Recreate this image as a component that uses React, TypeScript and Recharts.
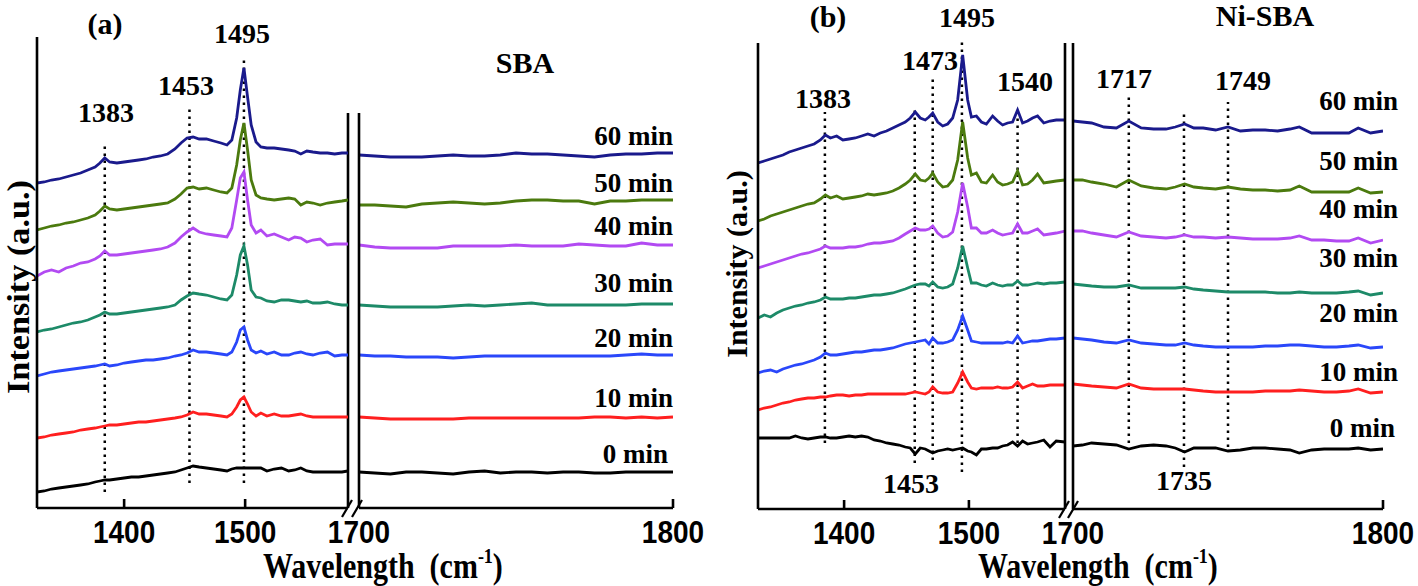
import React from 'react';
import { LineChart, Line, XAxis, YAxis, ReferenceLine } from 'recharts';

const SERIF = '"Liberation Serif", "Times New Roman", Times, serif';
const SANS = '"Liberation Sans", Arial, Helvetica, sans-serif';

const timeLabels = ['60 min', '50 min', '40 min', '30 min', '20 min', '10 min', '0 min'];
const seriesColors = ['#1a1a8c', '#4b7a0e', '#b24af2', '#1d8a68', '#2a47fa', '#ff1f1f', '#000000'];

// ---------- Panel (a) SBA ----------
const gridA1 = [1328, 1334, 1340, 1346, 1352, 1358, 1364, 1370, 1376, 1380, 1384, 1388, 1394, 1400, 1406, 1412, 1418, 1424, 1430, 1436, 1442, 1447, 1452, 1457, 1462, 1468, 1474, 1480, 1485, 1489, 1493, 1496, 1499, 1502, 1505, 1509, 1513, 1518, 1524, 1530, 1536, 1541, 1546, 1551, 1556, 1562, 1568, 1574, 1580, 1585];
const a1_60 = [325, 326, 328, 329, 331, 333, 335, 338, 341, 345, 350, 346, 345, 346, 347, 348, 349, 351, 352, 354, 359, 365, 370, 371, 369, 369, 367, 365, 363, 368, 390, 418, 440, 411, 383, 366, 361, 360, 360, 359, 358, 357, 354, 357, 356, 355, 355, 354, 355, 355];
const a1_50 = [278, 280, 282, 283, 285, 286, 288, 290, 293, 297, 302, 299, 298, 299, 300, 301, 302, 303, 304, 305, 309, 314, 320, 321, 319, 320, 318, 316, 315, 320, 343, 368, 385, 358, 328, 313, 310, 309, 308, 309, 310, 309, 303, 306, 305, 303, 305, 306, 307, 308];
const a1_40 = [232, 236, 238, 236, 240, 242, 245, 246, 249, 252, 257, 253, 253, 254, 255, 256, 257, 258, 259, 261, 265, 271, 276, 280, 276, 274, 273, 272, 271, 280, 308, 330, 336, 308, 283, 275, 278, 272, 274, 271, 268, 271, 270, 266, 268, 269, 263, 264, 264, 264];
const a1_30 = [176, 178, 179, 181, 183, 185, 186, 188, 191, 193, 196, 194, 194, 195, 196, 197, 198, 199, 200, 201, 203, 208, 212, 215, 214, 213, 211, 209, 208, 213, 233, 253, 262, 243, 218, 211, 210, 207, 206, 208, 208, 207, 206, 207, 205, 205, 206, 204, 203, 203];
const a1_20 = [132, 134, 136, 137, 138, 139, 140, 141, 142, 143, 144, 142, 143, 145, 146, 147, 148, 148, 149, 150, 152, 153, 155, 158, 156, 156, 155, 154, 153, 156, 166, 178, 181, 168, 158, 155, 157, 154, 156, 153, 153, 155, 156, 154, 153, 155, 156, 152, 153, 153];
const a1_10 = [70, 71, 73, 74, 75, 76, 78, 79, 80, 81, 82, 83, 83, 84, 85, 86, 86, 87, 88, 89, 90, 91, 93, 96, 94, 94, 93, 92, 91, 94, 101, 108, 111, 104, 96, 92, 95, 92, 94, 92, 92, 93, 94, 92, 91, 91, 91, 91, 91, 91];
const a1_0 = [16, 17, 19, 20, 21, 22, 23, 24, 26, 27, 28, 28, 29, 30, 31, 31, 32, 33, 34, 35, 36, 38, 40, 42, 41, 40, 39, 38, 37, 39, 40, 40, 40, 40, 40, 40, 40, 37, 39, 40, 37, 38, 40, 37, 36, 36, 36, 36, 36, 37];

const gridA2 = [1700, 1705, 1710, 1715, 1720, 1725, 1730, 1735, 1740, 1745, 1750, 1755, 1760, 1765, 1770, 1775, 1780, 1785, 1790, 1795, 1800];
const a2_60 = [353, 352, 351, 351, 351, 352, 353, 352, 352, 353, 355, 354, 354, 353, 352, 351, 353, 354, 354, 355, 355];
const a2_50 = [303, 303, 302, 301, 304, 305, 306, 305, 304, 305, 307, 308, 308, 307, 307, 304, 307, 307, 308, 308, 308];
const a2_40 = [263, 261, 260, 260, 260, 260, 262, 262, 262, 262, 263, 262, 262, 262, 264, 263, 262, 262, 265, 263, 263];
const a2_30 = [203, 202, 201, 201, 201, 201, 202, 203, 202, 203, 204, 205, 203, 203, 203, 203, 203, 203, 204, 204, 204];
const a2_20 = [153, 152, 152, 151, 151, 151, 150, 151, 152, 152, 152, 152, 152, 152, 152, 152, 152, 153, 154, 153, 153];
const a2_10 = [91, 90, 89, 89, 89, 89, 89, 90, 90, 90, 90, 90, 90, 90, 90, 91, 91, 90, 91, 90, 91];
const a2_0 = [36, 35, 34, 36, 36, 35, 34, 36, 37, 35, 36, 36, 35, 36, 36, 35, 35, 36, 36, 36, 36];

const peakPosA1 = [1384, 1454, 1499];
const peakLowA1 = [16, 25, 25];
const peakHighA1 = [365, 401, 451];
const peakLabelsA = ['1383', '1453', '1495'];

// ---------- Panel (b) Ni-SBA ----------
const gridB1 = [1331, 1336, 1341, 1346, 1351, 1356, 1361, 1366, 1371, 1376, 1381, 1385, 1389, 1394, 1399, 1404, 1409, 1414, 1419, 1424, 1429, 1434, 1439, 1444, 1449, 1453, 1457, 1461, 1465, 1468, 1471, 1475, 1479, 1483, 1487, 1491, 1495, 1499, 1502, 1506, 1510, 1514, 1519, 1523, 1527, 1531, 1535, 1539, 1543, 1547, 1551, 1555, 1560, 1565, 1570, 1577];
const b1_60 = [346, 348, 350, 352, 354, 357, 359, 361, 363, 365, 369, 374, 371, 373, 369, 370, 371, 373, 375, 373, 376, 378, 381, 384, 387, 391, 397, 391, 389, 392, 396, 387, 383, 385, 391, 409, 454, 409, 392, 393, 387, 385, 393, 388, 384, 386, 387, 399, 386, 388, 391, 393, 386, 388, 389, 389];
const b1_50 = [288, 290, 293, 295, 297, 299, 301, 303, 305, 306, 310, 314, 311, 313, 310, 311, 312, 313, 315, 314, 315, 316, 318, 321, 325, 329, 335, 329, 328, 331, 336, 327, 322, 323, 329, 349, 387, 351, 334, 336, 327, 326, 334, 327, 324, 325, 327, 338, 324, 325, 329, 335, 326, 327, 328, 329];
const b1_40 = [241, 243, 245, 247, 249, 251, 253, 255, 256, 258, 260, 263, 261, 261, 261, 262, 262, 263, 265, 266, 266, 267, 268, 271, 275, 278, 281, 279, 279, 280, 283, 276, 272, 273, 277, 297, 326, 302, 281, 281, 276, 276, 279, 276, 274, 275, 276, 285, 276, 276, 278, 280, 274, 275, 276, 278];
const b1_30 = [191, 194, 192, 196, 199, 201, 203, 204, 206, 207, 209, 212, 210, 210, 210, 211, 211, 212, 213, 214, 214, 215, 216, 218, 220, 222, 224, 225, 225, 223, 227, 222, 221, 222, 225, 241, 263, 241, 226, 226, 224, 223, 226, 224, 223, 224, 224, 228, 224, 224, 225, 226, 225, 226, 226, 227];
const b1_20 = [136, 138, 139, 137, 140, 142, 144, 145, 147, 149, 152, 156, 154, 154, 155, 156, 157, 157, 158, 159, 159, 160, 161, 163, 165, 166, 167, 168, 169, 165, 171, 166, 166, 167, 169, 179, 193, 179, 168, 167, 166, 166, 166, 166, 166, 167, 166, 173, 166, 167, 168, 168, 169, 170, 170, 171];
const b1_10 = [99, 101, 102, 104, 106, 107, 109, 110, 111, 111, 112, 112, 113, 114, 114, 113, 114, 114, 115, 115, 115, 115, 115, 115, 115, 116, 117, 116, 115, 117, 122, 117, 116, 116, 117, 126, 137, 127, 121, 120, 121, 121, 121, 122, 121, 121, 122, 127, 121, 123, 125, 123, 123, 124, 124, 124];
const b1_0 = [71, 71, 71, 71, 71, 71, 73, 71, 70, 71, 72, 72, 71, 71, 72, 73, 72, 73, 72, 69, 68, 66, 65, 64, 62, 61, 55, 61, 60, 58, 56, 58, 59, 60, 59, 60, 61, 58, 57, 54, 60, 60, 61, 61, 63, 64, 67, 63, 68, 65, 66, 67, 69, 62, 68, 67];

const gridB2 = [1700, 1703, 1706, 1710, 1714, 1718, 1722, 1726, 1730, 1733, 1736, 1739, 1742, 1746, 1750, 1754, 1758, 1762, 1766, 1770, 1773, 1777, 1781, 1785, 1789, 1792, 1796, 1800];
const b2_60 = [388, 387, 386, 382, 381, 388, 381, 380, 380, 382, 385, 381, 381, 379, 382, 378, 379, 379, 378, 380, 382, 376, 376, 376, 376, 381, 376, 378];
const b2_50 = [329, 329, 327, 325, 322, 329, 323, 321, 320, 322, 325, 322, 321, 320, 322, 320, 319, 319, 318, 319, 323, 317, 317, 317, 317, 321, 316, 317];
const b2_40 = [278, 278, 276, 274, 272, 277, 273, 272, 271, 272, 274, 272, 272, 271, 272, 271, 270, 270, 270, 271, 273, 269, 269, 268, 268, 271, 266, 269];
const b2_30 = [225, 224, 223, 222, 222, 224, 221, 221, 221, 221, 222, 220, 219, 218, 217, 217, 217, 217, 216, 216, 217, 216, 216, 216, 217, 218, 214, 216];
const b2_20 = [171, 170, 169, 167, 166, 169, 166, 165, 164, 164, 166, 164, 163, 162, 162, 162, 162, 163, 163, 164, 164, 163, 162, 162, 163, 164, 161, 162];
const b2_10 = [125, 124, 123, 122, 121, 125, 121, 120, 120, 120, 120, 119, 118, 117, 117, 117, 117, 118, 118, 118, 119, 118, 117, 117, 118, 120, 116, 117];
const b2_0 = [63, 64, 66, 65, 64, 60, 63, 64, 63, 61, 57, 61, 61, 61, 58, 59, 61, 61, 60, 59, 56, 59, 60, 60, 60, 61, 59, 60];

const peakPosB1 = [1384.6, 1456.6, 1471, 1494.4, 1539];
const peakLowB1 = [66, 46, 49, 37, 66];
const peakHighB1 = [397, 399, 431, 471, 401];
const peakPosB2 = [1718, 1735.8, 1750];
const peakLowB2 = [66, 42, 62];
const peakHighB2 = [412, 397, 407];

const ticksLeft = [1400, 1500];
const ticksRight = [1700, 1800];

const AXIS = { stroke: '#000', strokeWidth: 2.6 };
const H = 586;

function buildRows(grid: number[], series: number[][]) {
  return grid.map((x, i) => {
    const row: any = { x };
    series.forEach((s, k) => {
      row['s' + k] = s[i];
    });
    return row;
  });
}

function makeTick(withLine: number[]) {
  return (p: any) => {
    const { x, y, payload } = p;
    return (
      <g>
        {withLine.includes(payload.value) && (
          <line x1={x} y1={y} x2={x} y2={y - 9} stroke="#000" strokeWidth={2.6} />
        )}
        <text
          transform={`translate(${x},${y + 35}) scale(1,1.15)`}
          textAnchor="middle"
          fontFamily={SANS}
          fontWeight="bold"
          fontSize={28}
          fill="#000"
        >
          {payload.value}
        </text>
      </g>
    );
  };
}

type SegProps = {
  boxLeft: number;
  boxWidth: number;
  plotLeft: number;
  plotRight: number;
  plotTop: number;
  plotBottom: number;
  grid: number[];
  series: number[][];
  xDomain: [number, number];
  yMax: number;
  ticks: number[];
  tickLineAt: number[];
  rightAxis?: boolean;
  breakTop?: number;
  peakPos: number[];
  peakLow: number[];
  peakHigh: number[];
};

function Segment(p: SegProps) {
  const rows = buildRows(p.grid, p.series);
  const mLeft = p.plotLeft - p.boxLeft - 1;
  const mRight = p.boxLeft + p.boxWidth - p.plotRight - (p.rightAxis ? 1 : 0);
  return (
    <div style={{ position: 'absolute', left: p.boxLeft, top: 0, width: p.boxWidth, height: H }}>
      <LineChart
        width={p.boxWidth}
        height={H}
        data={rows}
        margin={{ top: p.plotTop, left: mLeft, right: mRight, bottom: 0 }}
      >
        <XAxis
          dataKey="x"
          type="number"
          domain={p.xDomain}
          ticks={p.ticks}
          interval={0}
          height={H - p.plotBottom}
          axisLine={AXIS}
          tickLine={false}
          tickSize={0}
          tickMargin={0}
          tick={makeTick(p.tickLineAt)}
          allowDataOverflow
        />
        <YAxis yAxisId="l" type="number" domain={[0, p.yMax]} width={1} tick={false} tickLine={false} axisLine={AXIS} allowDataOverflow />
        {p.rightAxis && (
          <YAxis yAxisId="r" orientation="right" type="number" domain={[0, p.yMax]} width={1} tick={false} tickLine={false} axisLine={AXIS} />
        )}
        {p.breakTop != null && (
          <ReferenceLine
            yAxisId="l"
            segment={[{ x: p.xDomain[1], y: 0 }, { x: p.xDomain[1], y: p.breakTop }]}
            stroke="#000"
            strokeWidth={2.6}
            ifOverflow="visible"
          />
        )}
        {p.peakPos.map((x, i) => (
          <ReferenceLine
            key={'pk' + i}
            yAxisId="l"
            segment={[{ x, y: p.peakLow[i] }, { x, y: p.peakHigh[i] }]}
            stroke="#000"
            strokeWidth={2.5}
            strokeDasharray="2.5 4.5"
            ifOverflow="visible"
          />
        ))}
        {p.series.map((_, k) => (
          <Line
            key={'s' + k}
            yAxisId="l"
            dataKey={'s' + k}
            type="linear"
            stroke={seriesColors[k]}
            strokeWidth={2.8}
            dot={false}
            isAnimationActive={false}
          />
        ))}
      </LineChart>
    </div>
  );
}

function Txt(props: { x: number; y: number; size: number; anchor?: string; sy?: number; family?: string; children: any }) {
  const { x, y, size, anchor = 'middle', sy = 1, family = SERIF } = props;
  return (
    <text
      transform={`translate(${x},${y}) scale(1,${sy})`}
      fontSize={size}
      fontFamily={family}
      fontWeight="bold"
      textAnchor={anchor as any}
      fill="#000"
    >
      {props.children}
    </text>
  );
}

function AxisTitle({ x, y }: { x: number; y: number }) {
  return (
    <text transform={`translate(${x},${y}) scale(1,1.18)`} fontSize={30} fontFamily={SERIF} fontWeight="bold" fill="#000">
      <tspan>{'Wavelength\u00A0\u00A0(cm'}</tspan>
      <tspan fontSize={18} dy={-13}>-1</tspan>
      <tspan dy={13}>)</tspan>
    </text>
  );
}

export default function App() {
  const seriesA1 = [a1_60, a1_50, a1_40, a1_30, a1_20, a1_10, a1_0];
  const seriesA2 = [a2_60, a2_50, a2_40, a2_30, a2_20, a2_10, a2_0];
  const seriesB1 = [b1_60, b1_50, b1_40, b1_30, b1_20, b1_10, b1_0];
  const seriesB2 = [b2_60, b2_50, b2_40, b2_30, b2_20, b2_10, b2_0];

  const timeBaseA = [145, 192, 235, 292, 347, 407, 463];
  const timeBaseB = [110, 170, 218, 267, 322, 381, 437];

  return (
    <div style={{ position: 'absolute', left: 0, top: 0, width: 1418, height: H, background: '#fff', overflow: 'hidden' }}>
      <Segment
        boxLeft={0} boxWidth={400} plotLeft={37} plotRight={348} plotTop={37} plotBottom={508}
        grid={gridA1} series={seriesA1} xDomain={[1328, 1585]} yMax={471}
        ticks={ticksLeft} tickLineAt={ticksLeft} breakTop={395}
        peakPos={peakPosA1} peakLow={peakLowA1} peakHigh={peakHighA1}
      />
      <Segment
        boxLeft={300} boxWidth={410} plotLeft={359} plotRight={673} plotTop={113} plotBottom={508}
        grid={gridA2} series={seriesA2} xDomain={[1700, 1800]} yMax={395}
        ticks={ticksRight} tickLineAt={[1800]}
        peakPos={[]} peakLow={[]} peakHigh={[]}
      />
      <Segment
        boxLeft={700} boxWidth={400} plotLeft={758} plotRight={1065} plotTop={43} plotBottom={509}
        grid={gridB1} series={seriesB1} xDomain={[1331, 1577]} yMax={466}
        ticks={ticksLeft} tickLineAt={ticksLeft} rightAxis
        peakPos={peakPosB1} peakLow={peakLowB1} peakHigh={peakHighB1}
      />
      <Segment
        boxLeft={1010} boxWidth={408} plotLeft={1073} plotRight={1383} plotTop={43} plotBottom={509}
        grid={gridB2} series={seriesB2} xDomain={[1700, 1800]} yMax={466}
        ticks={ticksRight} tickLineAt={[1800]}
        peakPos={peakPosB2} peakLow={peakLowB2} peakHigh={peakHighB2}
      />
      <svg width={1418} height={H} style={{ position: 'absolute', left: 0, top: 0, pointerEvents: 'none' }}>
        {/* axis break marks */}
        <g stroke="#000" strokeWidth={2.2}>
          <line x1={342} y1={517} x2={352} y2={500} />
          <line x1={352} y1={517} x2={362} y2={500} />
          <line x1={1059} y1={518} x2={1069} y2={501} />
          <line x1={1068} y1={518} x2={1078} y2={501} />
        </g>

        {/* panel (a) */}
        <Txt x={105} y={34} size={30}>(a)</Txt>
        <Txt x={525} y={73} size={30}>SBA</Txt>
        <Txt x={106} y={122} size={28}>{peakLabelsA[0]}</Txt>
        <Txt x={186} y={95} size={28}>{peakLabelsA[1]}</Txt>
        <Txt x={242} y={43} size={28}>{peakLabelsA[2]}</Txt>
        {timeLabels.map((t, i) => (
          <Txt key={'ta' + i} x={i === 6 ? 668 : 673} y={timeBaseA[i]} size={27} anchor="end">{t}</Txt>
        ))}
        <AxisTitle x={263} y={578} />
        <text transform="translate(29,287) rotate(-90) scale(1.07,1)" fontSize={32} fontFamily={SERIF} fontWeight="bold" textAnchor="middle" fill="#000">
          Intensity (a.u.)
        </text>

        {/* panel (b) */}
        <Txt x={828} y={27} size={30}>(b)</Txt>
        <Txt x={1265} y={26} size={30}>Ni-SBA</Txt>
        <Txt x={967} y={27} size={28}>1495</Txt>
        <Txt x={930} y={70} size={28}>1473</Txt>
        <Txt x={823} y={108} size={28}>1383</Txt>
        <Txt x={1025} y={91} size={28}>1540</Txt>
        <Txt x={1124} y={88} size={28}>1717</Txt>
        <Txt x={1243} y={90} size={28}>1749</Txt>
        <Txt x={911} y={493} size={28}>1453</Txt>
        <Txt x={1184} y={490} size={28}>1735</Txt>
        {timeLabels.map((t, i) => (
          <Txt key={'tb' + i} x={i === 6 ? 1395 : 1398} y={timeBaseB[i]} size={27} anchor="end">{t}</Txt>
        ))}
        <AxisTitle x={978} y={578} />
        <text transform="translate(747,264) rotate(-90)" fontSize={30} fontFamily={SERIF} fontWeight="bold" textAnchor="middle" fill="#000">
          Intensity (a.u.)
        </text>
      </svg>
    </div>
  );
}
